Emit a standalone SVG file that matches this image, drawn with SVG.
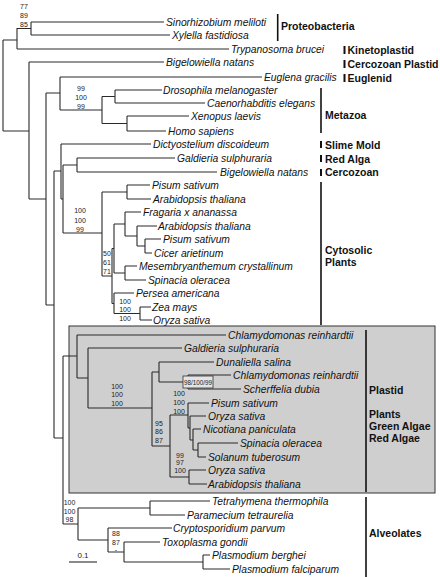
<svg xmlns="http://www.w3.org/2000/svg" width="440" height="577" viewBox="0 0 440 577">
<style>
.sp{font-family:"Liberation Sans",Arial,sans-serif;font-size:10.3px;font-style:italic;fill:#111}
.bs{font-family:"Liberation Sans",Arial,sans-serif;font-size:7px;fill:#222;text-anchor:middle}
.grp{font-family:"Liberation Sans",Arial,sans-serif;font-size:10.5px;font-weight:bold;fill:#111}
.tr{fill:none;stroke:#2a2a2a;stroke-width:1.1}
.bar{stroke:#111;stroke-width:1.6}
.sbar{stroke:#111;stroke-width:2}
</style>
<rect id="plastid-box" x="69" y="326" width="366" height="167" fill="#cfcfcf" stroke="#333" stroke-width="1"/>
<g id="connectors" class="tr">
<path d="M3,40V131M3,40H17M17,28V49M17,28.5H31M31,22V35M31,22H164M31,35H170M17,49H229"/>
<path d="M3,131H29M29,62V199M29,62H164M29,199H46M46,93V305M46,93H60M60,77V110M60,77H262M60,110H102M102,96.5V123.5M102,96.5H115M115,90V103M115,90H162M115,103H205M102,123.5H127M127,116V131M127,116H189M127,131H166"/>
<path d="M46,305H54M54,171V438M54,171H61M61,144V199M61,144H151M61,199H63M63,165V233M63,165H77M77,158V172M77,158H175M77,172H217"/>
<path d="M63,233H102M102,192V276M102,192H127M127,185V199M127,185H150M127,199H151M102,276H112M112,248.5V303.5M112,248.5H114M114,224V273M114,224H125M125,212V236M125,212H141M125,236H137M137,226V246M137,226H157M137,246H145M145,239V253M145,239H161M145,253H152M114,273H125M125,266V280M125,266H137M125,280H146M112,303.5H114M114,293V313.5M114,293H134M114,313.5H140M140,307V320M140,307H151M140,320H152"/>
<path d="M54,438H63M63,356V524M63,356H77M77,335V378M77,335H226M77,378H88M88,348V408M88,348H182M88,408H152M152,372V446M152,372H159M159,362V382M159,362H214M159,382H188M188,375V389M188,375H231M188,389H241"/>
<path d="M152,446H170M170,415V477M170,415H188M188,403V428M188,403H209M188,428H190M190,416V440M190,416H206M190,440H193M193,429V450M193,429H201M193,450H198M198,443V457M198,443H238M198,457H206M170,477H189M189,470V484M189,470H206M189,484H207"/>
<path d="M63,524H78M78,508V540M78,508H150M150,501V515M150,501H210M150,515H185M78,540H108M108,528V552M108,528H172M108,552H124M124,542V562M124,542H160M124,562H203M203,555V569M203,555H210M203,569H230"/>
</g>
<g id="bootstrap">
<text class="bs" x="24" y="9">77</text><text class="bs" x="24" y="17.5">89</text><text class="bs" x="24" y="26.5">85</text>
<text class="bs" x="81" y="90.5">99</text><text class="bs" x="81" y="99.5">100</text><text class="bs" x="81" y="109">99</text>
<text class="bs" x="80" y="213">100</text><text class="bs" x="80" y="222.5">100</text><text class="bs" x="80" y="231.5">99</text>
<text class="bs" x="107" y="256">50</text><text class="bs" x="107" y="264.5">61</text><text class="bs" x="107" y="273.5">71</text>
<text class="bs" x="125" y="304">100</text><text class="bs" x="125" y="312">100</text><text class="bs" x="125" y="321">100</text>
<text class="bs" x="117" y="388.5">100</text><text class="bs" x="117" y="397">100</text><text class="bs" x="117" y="405.5">100</text>
<rect x="183" y="376" width="30" height="12" fill="#e4e4e4" stroke="#333" stroke-width="0.8"/>
<text class="bs" x="198" y="385" style="font-size:6.3px">98/100/99</text>
<text class="bs" x="179" y="395.5">100</text><text class="bs" x="179" y="404.5">100</text><text class="bs" x="179" y="413.5">100</text>
<text class="bs" x="159" y="425.5">95</text><text class="bs" x="159" y="434">86</text><text class="bs" x="159" y="442.5">87</text>
<text class="bs" x="180" y="457.5">99</text><text class="bs" x="180" y="464.5">97</text><text class="bs" x="180" y="472.5">100</text>
<text class="bs" x="69.5" y="504.5">100</text><text class="bs" x="69.5" y="513.5">100</text><text class="bs" x="69.5" y="521.5">98</text>
<text class="bs" x="116" y="535.5">88</text><text class="bs" x="116" y="544.5">87</text><text class="bs" x="116" y="552">-</text>
</g>
<g id="leaves">
<g id="n-sinorhizobium"><text class="sp" x="166" y="25.7">Sinorhizobium meliloti</text></g>
<g id="n-xylella"><text class="sp" x="172" y="38.7">Xylella fastidiosa</text></g>
<g id="n-trypanosoma"><text class="sp" x="231" y="52.7">Trypanosoma brucei</text></g>
<g id="n-bigelowiella1"><text class="sp" x="166" y="65.7">Bigelowiella natans</text></g>
<g id="n-euglena"><text class="sp" x="264" y="80.7">Euglena gracilis</text></g>
<g id="n-drosophila"><text class="sp" x="163" y="93.7">Drosophila melanogaster</text></g>
<g id="n-caenorhabditis"><text class="sp" x="207" y="106.7">Caenorhabditis elegans</text></g>
<g id="n-xenopus"><text class="sp" x="191" y="119.7">Xenopus laevis</text></g>
<g id="n-homo"><text class="sp" x="168" y="134.7">Homo sapiens</text></g>
<g id="n-dictyostelium"><text class="sp" x="153" y="147.7">Dictyostelium discoideum</text></g>
<g id="n-galdieria1"><text class="sp" x="177" y="161.7">Galdieria sulphuraria</text></g>
<g id="n-bigelowiella2"><text class="sp" x="220" y="175.7">Bigelowiella natans</text></g>
<g id="n-pisum1"><text class="sp" x="152" y="188.7">Pisum sativum</text></g>
<g id="n-arabidopsis1"><text class="sp" x="153" y="202.7">Arabidopsis thaliana</text></g>
<g id="n-fragaria"><text class="sp" x="143" y="215.7">Fragaria x ananassa</text></g>
<g id="n-arabidopsis2"><text class="sp" x="158" y="229.7">Arabidopsis thaliana</text></g>
<g id="n-pisum2"><text class="sp" x="163" y="242.7">Pisum sativum</text></g>
<g id="n-cicer"><text class="sp" x="154" y="256.7">Cicer arietinum</text></g>
<g id="n-mesembryanthemum"><text class="sp" x="139" y="269.7">Mesembryanthemum crystallinum</text></g>
<g id="n-spinacia1"><text class="sp" x="148" y="283.7">Spinacia oleracea</text></g>
<g id="n-persea"><text class="sp" x="136" y="296.7">Persea americana</text></g>
<g id="n-zea"><text class="sp" x="152" y="310.7">Zea mays</text></g>
<g id="n-oryza1"><text class="sp" x="153" y="323.7">Oryza sativa</text></g>
<g id="n-chlamydomonas1"><text class="sp" x="228" y="338.7">Chlamydomonas reinhardtii</text></g>
<g id="n-galdieria2"><text class="sp" x="184" y="351.7">Galdieria sulphuraria</text></g>
<g id="n-dunaliella"><text class="sp" x="216" y="365.7">Dunaliella salina</text></g>
<g id="n-chlamydomonas2"><text class="sp" x="233" y="378.7">Chlamydomonas reinhardtii</text></g>
<g id="n-scherffelia"><text class="sp" x="243" y="392.7">Scherffelia dubia</text></g>
<g id="n-pisum3"><text class="sp" x="211" y="406.7">Pisum sativum</text></g>
<g id="n-oryza2"><text class="sp" x="208" y="419.7">Oryza sativa</text></g>
<g id="n-nicotiana"><text class="sp" x="203" y="432.7">Nicotiana paniculata</text></g>
<g id="n-spinacia2"><text class="sp" x="240" y="446.7">Spinacia oleracea</text></g>
<g id="n-solanum"><text class="sp" x="208" y="460.7">Solanum tuberosum</text></g>
<g id="n-oryza3"><text class="sp" x="208" y="473.7">Oryza sativa</text></g>
<g id="n-arabidopsis3"><text class="sp" x="208" y="487.7">Arabidopsis thaliana</text></g>
<g id="n-tetrahymena"><text class="sp" x="212" y="504.7">Tetrahymena thermophila</text></g>
<g id="n-paramecium"><text class="sp" x="187" y="518.7">Paramecium tetraurelia</text></g>
<g id="n-cryptosporidium"><text class="sp" x="173" y="531.7">Cryptosporidium parvum</text></g>
<g id="n-toxoplasma"><text class="sp" x="162" y="545.7">Toxoplasma gondii</text></g>
<g id="n-berghei"><text class="sp" x="212" y="558.7">Plasmodium berghei</text></g>
<g id="n-falciparum"><text class="sp" x="232" y="572.7">Plasmodium falciparum</text></g>
</g>
<g id="groups">
<g id="g-proteobacteria"><line class="bar" x1="277.7" y1="14" x2="277.7" y2="41"/><text class="grp" x="281" y="30">Proteobacteria</text></g>
<g id="g-kinetoplastid"><line class="sbar" x1="344.5" y1="46" x2="344.5" y2="54"/><text class="grp" x="347.5" y="54">Kinetoplastid</text></g>
<g id="g-cercozoan-plastid"><line class="sbar" x1="344.5" y1="60" x2="344.5" y2="68"/><text class="grp" x="347.5" y="68">Cercozoan Plastid</text></g>
<g id="g-euglenid"><line class="sbar" x1="344.5" y1="74" x2="344.5" y2="82"/><text class="grp" x="347.5" y="82">Euglenid</text></g>
<g id="g-metazoa"><line class="bar" x1="321" y1="88" x2="321" y2="133"/><text class="grp" x="325" y="119">Metazoa</text></g>
<g id="g-slime-mold"><line class="sbar" x1="321" y1="141" x2="321" y2="148"/><text class="grp" x="325" y="149">Slime Mold</text></g>
<g id="g-red-alga"><line class="sbar" x1="321" y1="155" x2="321" y2="162"/><text class="grp" x="325" y="163">Red Alga</text></g>
<g id="g-cercozoan"><line class="sbar" x1="321" y1="169" x2="321" y2="176"/><text class="grp" x="325" y="176">Cercozoan</text></g>
<g id="g-cytosolic"><line class="bar" x1="321" y1="182" x2="321" y2="325"/><text class="grp" x="325" y="254">Cytosolic</text><text class="grp" x="325" y="266">Plants</text></g>
<g id="g-plastid"><line class="bar" x1="366" y1="330" x2="366" y2="492"/><text class="grp" x="369" y="394">Plastid</text><text class="grp" x="369" y="418">Plants</text><text class="grp" x="369" y="430">Green Algae</text><text class="grp" x="369" y="442">Red Algae</text></g>
<g id="g-alveolates"><line class="bar" x1="366" y1="497" x2="366" y2="577"/><text class="grp" x="369" y="537">Alveolates</text></g>
</g>
<g id="scale">
<line class="tr" x1="69" y1="562" x2="97" y2="562"/>
<text class="bs" x="83" y="558" style="font-size:8px">0.1</text>
</g>
</svg>
